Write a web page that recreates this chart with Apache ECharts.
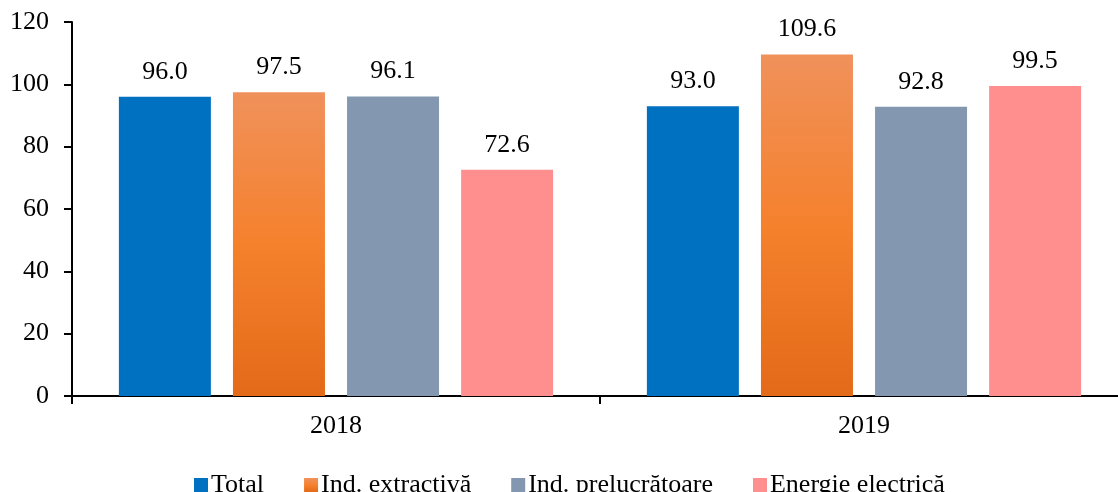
<!DOCTYPE html>
<html><head><meta charset="utf-8">
<script src="https://cdn.jsdelivr.net/npm/echarts@6/dist/echarts.min.js"></script>
<style>html,body{margin:0;padding:0;background:#fff}#c{width:1118px;height:492px}</style>
</head><body><div id="c"></div>
<script>
const categories = ['2018', '2019'];
const seriesNames = ['Total', 'Ind. extractivă', 'Ind. prelucrătoare', 'Energie electrică'];
const totalValues = [96.0, 93.0];
const extractivaValues = [97.5, 109.6];
const prelucratoareValues = [96.1, 92.8];
const energieValues = [72.6, 99.5];
const yTicks = [0, 20, 40, 60, 80, 100, 120];

const font = '"Liberation Serif", "Times New Roman", Times, serif';
const orangeGrad = new echarts.graphic.LinearGradient(0, 0, 0, 1, [
  {offset: 0, color: '#F0915B'},
  {offset: 0.5, color: '#F5812D'},
  {offset: 1, color: '#E36A18'}
]);
const colors = ['#0070C0', orangeGrad, '#8497B0', '#FF8F8F'];
const dataSets = [totalValues, extractivaValues, prelucratoareValues, energieValues];

const chart = echarts.init(document.getElementById('c'), null, {renderer: 'canvas'});
chart.setOption({
  animation: false,
  textStyle: {fontFamily: font},
  grid: {left: 72, width: 1056, top: 22, bottom: 96, containLabel: false, outerBoundsMode: 'none'},
  legend: {
    data: seriesNames,
    left: 189, top: 467,
    itemWidth: 14, itemHeight: 14, itemGap: 40,
    icon: 'rect',
    textStyle: {fontFamily: font, fontSize: 26, color: '#000', padding: [0, 0, 0, -2]}
  },
  xAxis: {
    type: 'category',
    data: categories,
    axisLine: {lineStyle: {color: '#000', width: 2}},
    axisTick: {show: true, length: 8, lineStyle: {color: '#000', width: 2}},
    axisLabel: {fontFamily: font, fontSize: 26, color: '#000', margin: 17}
  },
  yAxis: {
    type: 'value',
    min: yTicks[0], max: yTicks[yTicks.length - 1], interval: 20,
    splitLine: {show: false},
    axisLine: {show: true, lineStyle: {color: '#000', width: 2}},
    axisTick: {show: true, length: 8, lineStyle: {color: '#000', width: 2}},
    axisLabel: {fontFamily: font, fontSize: 26, color: '#000', margin: 23}
  },
  series: seriesNames.map((n, i) => ({
    name: n,
    type: 'bar',
    data: dataSets[i],
    barWidth: 92,
    barGap: '24%',
    itemStyle: {color: colors[i]},
    label: {
      show: true, position: 'top', distance: 12,
      fontFamily: font, fontSize: 26, color: '#000',
      formatter: p => p.value.toFixed(1)
    }
  }))
});
</script></body></html>
